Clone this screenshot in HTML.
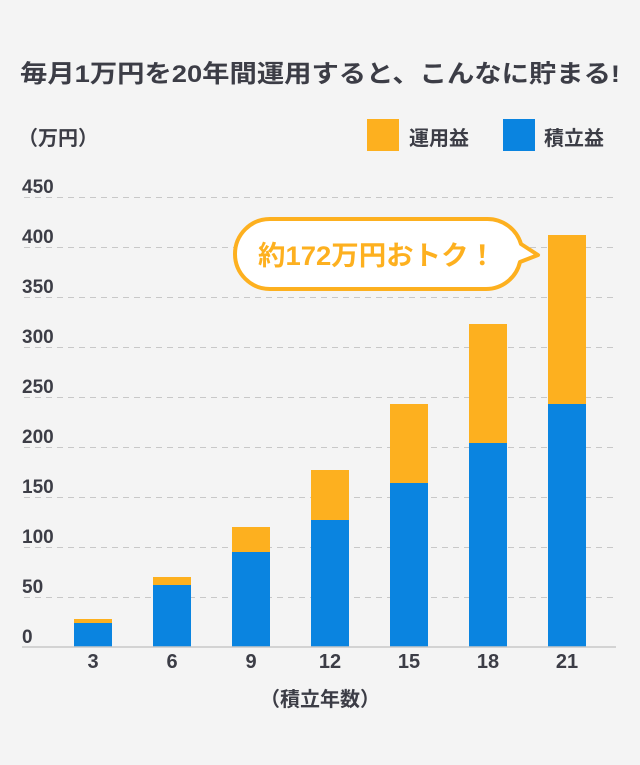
<!DOCTYPE html>
<html><head><meta charset="utf-8"><style>
body{margin:0;background:#f4f4f4;}
svg{display:block}
text{font-family:"Liberation Sans","Noto Sans CJK JP",sans-serif;fill:#3c3d46;font-weight:bold}
</style></head><body>
<svg width="640" height="765" viewBox="0 0 640 765">
<rect width="640" height="765" fill="#f4f4f4"/>
<text x="20" y="82" font-size="24.5" textLength="600" lengthAdjust="spacingAndGlyphs">毎月1万円を20年間運用すると、こんなに貯まる!</text>
<text x="18" y="145" font-size="20">（万円）</text>
<rect x="367" y="119" width="32" height="32" fill="#fdb01f"/>
<text x="409" y="145" font-size="20">運用益</text>
<rect x="503" y="119" width="32" height="32" fill="#0a84e0"/>
<text x="544" y="145" font-size="20">積立益</text>
<g stroke="#c8c8c8" stroke-width="1" stroke-dasharray="6,5">
<line x1="24" x2="616" y1="197.5" y2="197.5"/><line x1="24" x2="616" y1="247.5" y2="247.5"/>
<line x1="24" x2="616" y1="297.5" y2="297.5"/><line x1="24" x2="616" y1="347.5" y2="347.5"/>
<line x1="24" x2="616" y1="397.5" y2="397.5"/><line x1="24" x2="616" y1="447.5" y2="447.5"/>
<line x1="24" x2="616" y1="497.5" y2="497.5"/><line x1="24" x2="616" y1="547.5" y2="547.5"/>
<line x1="24" x2="616" y1="597.5" y2="597.5"/>
</g>
<g font-size="19">
<text x="22" y="193">450</text><text x="22" y="243">400</text><text x="22" y="293">350</text>
<text x="22" y="343">300</text><text x="22" y="393">250</text><text x="22" y="443">200</text>
<text x="22" y="493">150</text><text x="22" y="543">100</text><text x="22" y="593">50</text>
<text x="22" y="643">0</text>
</g>
<g fill="#fdb01f">
<rect x="74" y="619" width="38" height="28"/><rect x="153" y="577" width="38" height="70"/>
<rect x="232" y="527" width="38" height="120"/><rect x="311" y="470" width="38" height="177"/>
<rect x="390" y="404" width="38" height="243"/><rect x="469" y="324" width="38" height="323"/>
<rect x="548" y="235" width="38" height="412"/>
</g>
<g fill="#0a84e0">
<rect x="74" y="623" width="38" height="24"/><rect x="153" y="585" width="38" height="62"/>
<rect x="232" y="552" width="38" height="95"/><rect x="311" y="520" width="38" height="127"/>
<rect x="390" y="483" width="38" height="164"/><rect x="469" y="443" width="38" height="204"/>
<rect x="548" y="404" width="38" height="243"/>
</g>
<line x1="22" x2="616" y1="647" y2="647" stroke="#c8c8c8" stroke-width="1.5"/>
<g font-size="20" text-anchor="middle">
<text x="93" y="668">3</text><text x="172" y="668">6</text><text x="251" y="668">9</text>
<text x="330" y="668">12</text><text x="409" y="668">15</text><text x="488" y="668">18</text>
<text x="567" y="668">21</text>
<text x="320" y="706">（積立年数）</text>
</g>
<path d="M270,219 H486 A35,35 0 0 1 521,244 L538,255 L520,262 A35,35 0 0 1 486,289 H270 A35,35 0 0 1 270,219 Z" fill="#fff" stroke="#fdb01f" stroke-width="4" stroke-linejoin="round"/>
<text x="377" y="265" font-size="27" text-anchor="middle" style="fill:#fdb01f" textLength="238" lengthAdjust="spacingAndGlyphs">約172万円おトク！</text>
</svg>
</body></html>
